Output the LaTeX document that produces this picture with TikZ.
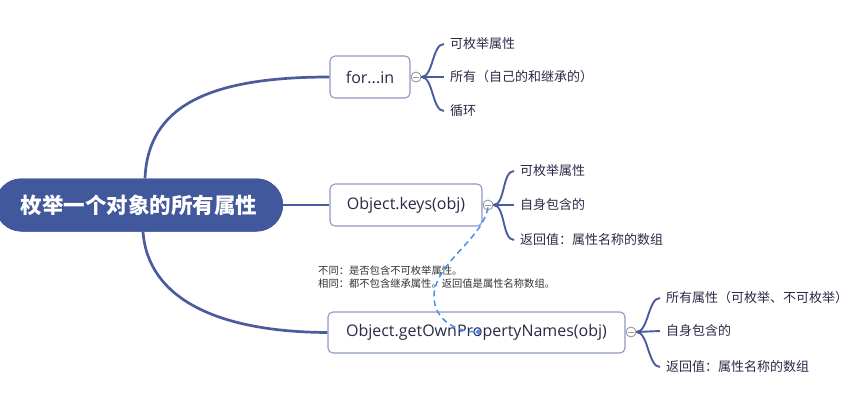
\documentclass[tikz,border=0pt]{standalone}
\usepackage{fontspec}
\setmainfont{Noto Sans CJK SC}
\newfontfamily\latinf{Open Sans}
\usetikzlibrary{arrows.meta}
\definecolor{mainblue}{HTML}{41599C}
\definecolor{linecol}{HTML}{4A5C9E}
\definecolor{boxborder}{HTML}{8E99C9}
\definecolor{txtcol}{HTML}{2A2A48}
\definecolor{dashcol}{HTML}{4A8DF0}
\tikzset{
  central/.style={fill=mainblue, rounded corners=26.5pt, minimum width=288pt, minimum height=53pt,
    text=white, font=\fontsize{21.5}{24}\selectfont\bfseries, inner sep=0pt},
  mainline/.style={draw=linecol, line width=2.7pt},
  subline/.style={draw=linecol, line width=1.9pt},
  topicbox/.style={draw=boxborder, line width=1.1pt, fill=white, rounded corners=5pt,
    minimum height=42pt, inner sep=0pt, text=txtcol, font=\latinf\fontsize{16}{18}\selectfont},
  collapser/.style={circle, draw=gray!80, line width=0.9pt, fill=white, minimum size=10pt, inner sep=0pt},
  leaf/.style={anchor=west, inner sep=0pt, text=txtcol, font=\fontsize{13}{15}\selectfont},
  notetext/.style={anchor=north west, inner sep=0pt, text=black!80, align=left,
    font=\fontsize{10.3}{13}\selectfont},
  relation/.style={draw=dashcol, line width=1.5pt, dash pattern=on 6pt off 4pt, -{Circle[length=5pt]}}
}
\begin{document}
\begin{tikzpicture}[x=1pt,y=-1pt]
\useasboundingbox (0,0) rectangle (853,412);

\node[topicbox, minimum width=80pt] (f) at (370,77) {for...in};
\node[topicbox, minimum width=152pt] (k) at (406,205) {Object.keys(obj)};
\node[topicbox, minimum width=297pt, minimum height=41pt] (g) at (476.5,332.5) {Object.getOwnPropertyNames(obj)};
\node[central] (c) at (139,205) {枚举一个对象的所有属性};

\draw[mainline] (c.east) -- (k.west);
\draw[mainline] ([xshift=6pt]c.north) .. controls (148,108) and (205,77) .. (f.west);
\draw[mainline] ([xshift=4pt]c.south) .. controls (148,300) and (220,332) .. (g.west);

% redraw central on top of line starts
\node[central] (c2) at (139,205) {枚举一个对象的所有属性};

% collapse circles
\node[collapser] (cf) at (416,77) {};
\node[collapser] (ck) at (488,205) {};
\node[collapser] (cg) at (631,332) {};
\foreach \cc in {cf,ck,cg} \draw[gray!80, line width=0.9pt] ([xshift=-3pt]\cc.center) -- ([xshift=3pt]\cc.center);

% leaves
\node[leaf] (f1) at (450,44) {可枚举属性};
\node[leaf] (f2) at (450,77) {所有（自己的和继承的）};
\node[leaf] (f3) at (450,111) {循环};
\node[leaf] (k1) at (520,171) {可枚举属性};
\node[leaf] (k2) at (520,205) {自身包含的};
\node[leaf] (k3) at (520,240) {返回值：属性名称的数组};
\node[leaf] (g1) at (666,298) {所有属性（可枚举、不可枚举）};
\node[leaf] (g2) at (666,331) {自身包含的};
\node[leaf] (g3) at (666,367) {返回值：属性名称的数组};

\foreach \p/\a/\b/\cc in {cf/f1/f2/f3, ck/k1/k2/k3, cg/g1/g2/g3}{
  \draw[subline] (\p.east) .. controls +(12,0) and +(-12,0) .. ([xshift=-6pt]\a.west);
  \draw[subline] (\p.east) -- ([xshift=-6pt]\b.west);
  \draw[subline] (\p.east) .. controls +(12,0) and +(-12,0) .. ([xshift=-6pt]\cc.west);
}

% note
\node[notetext] (n) at (318,266) {不同：是否包含不可枚举属性。\\相同：都不包含继承属性。返回值是属性名称数组。};

% relation
\coordinate (dmid) at (434,295);
\coordinate (dend) at (481,332);
\draw[relation] ([yshift=3pt]ck.south) .. controls (482,240) and (436,262) .. (dmid)
  .. controls (433,322) and (460,332) .. (dend);
\end{tikzpicture}
\end{document}
